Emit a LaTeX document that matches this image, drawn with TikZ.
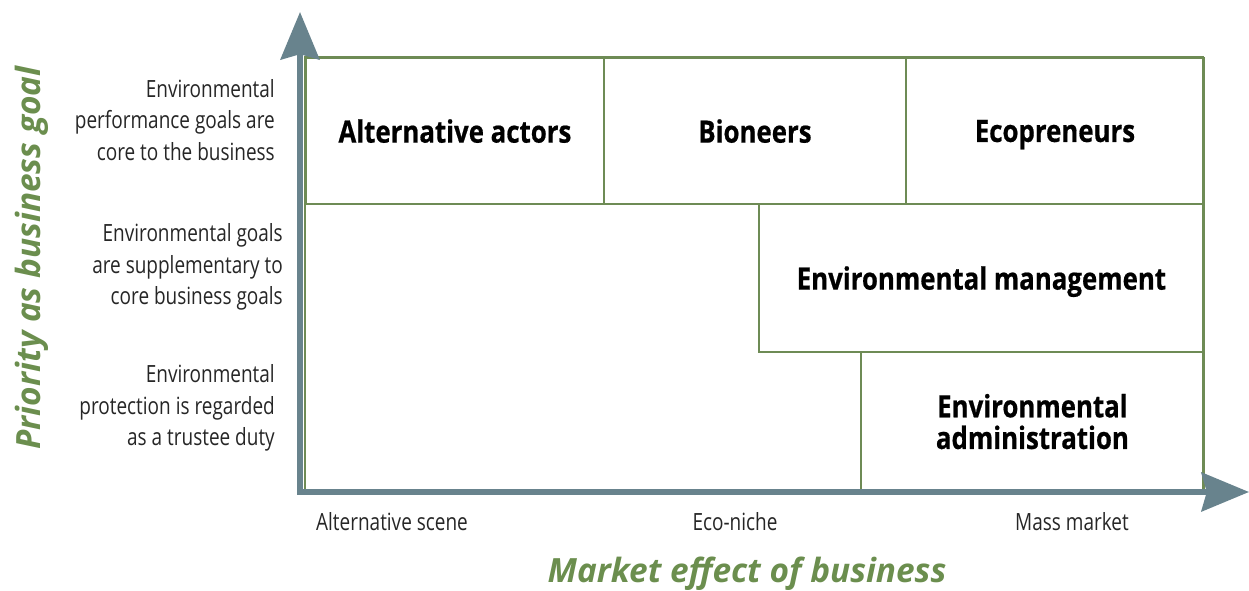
\documentclass[tikz,border=0pt]{standalone}
\usepackage{fontspec}
\setmainfont{Open Sans}
\newfontfamily\condfont{Open Sans}[FakeStretch=0.8]
\newfontfamily\headfont{Open Sans}[FakeStretch=0.84, BoldFeatures={FakeBold=0.6}]
\usetikzlibrary{arrows.meta}

\definecolor{axisgray}{HTML}{68838D}
\definecolor{boxgreen}{HTML}{6E8B55}
\definecolor{titlegreen}{HTML}{6B8E4E}

\tikzset{
  cell/.style={draw=boxgreen, line width=1.1pt, anchor=north west, inner sep=0pt, align=center,
    text depth=0pt, font=\headfont\bfseries\fontsize{17.5}{18}\selectfont},
  level/.style={anchor=east, align=right, text=black!85,
    font=\condfont\fontsize{13.5}{18}\selectfont},
  tick/.style={text=black!85, font=\condfont\fontsize{13.5}{16}\selectfont},
  axistitle/.style={text=titlegreen, font=\bfseries\itshape\fontsize{19}{22}\selectfont},
}

\begin{document}
\begin{tikzpicture}[x=0.02cm, y=-0.02cm]
  \useasboundingbox (0,0) rectangle (1249,591);
  % outer frame of the matrix
  \draw[boxgreen, line width=1.1pt] (305,57) rectangle (1203,490);
  % top row
  \node[cell, minimum width=5.96cm, minimum height=2.92cm] (actors) at (305,57) {Alternative actors};
  \node[cell, minimum width=6.04cm, minimum height=2.92cm] (bioneers) at (603,57) {Bioneers};
  \node[cell, minimum width=5.96cm, minimum height=2.92cm] (ecopreneurs) at (905,57) {Ecopreneurs};
  % lower steps
  \node[cell, minimum width=8.9cm, minimum height=2.96cm] (management) at (758,203) {Environmental management};
  \node[cell, minimum width=6.86cm, minimum height=2.78cm] (administration) at (860,351) {Environmental\\administration};

  % axes
  \draw[axisgray, line width=3.4pt, line join=miter,
    {Stealth[length=27pt 0, width=22pt 0, inset=3pt]}-{Stealth[length=27pt 0, width=22pt 0, inset=3pt]}]
    (300,12) -- (300,492) -- (1249,492);

  % levels on the vertical axis
  \node[level] (goalcore) at (281,120) {Environmental\\performance goals are\\core to the business};
  \node[level] (goalsupp) at (289,267) {Environmental goals\\are supplementary to\\core business goals};
  \node[level] (goaltrustee) at (281,408) {Environmental\\protection is regarded\\as a trustee duty};

  % levels on the horizontal axis
  \node[tick] (altscene) at (392,522) {Alternative scene};
  \node[tick] (niche) at (735,522) {Eco-niche};
  \node[tick] (massmarket) at (1072,522) {Mass market};

  \node[axistitle] (xtitle) at (747,574) {Market effect of business};
  \node[axistitle, rotate=90] (ytitle) at (32,258) {Priority as business goal};
\end{tikzpicture}
\end{document}
